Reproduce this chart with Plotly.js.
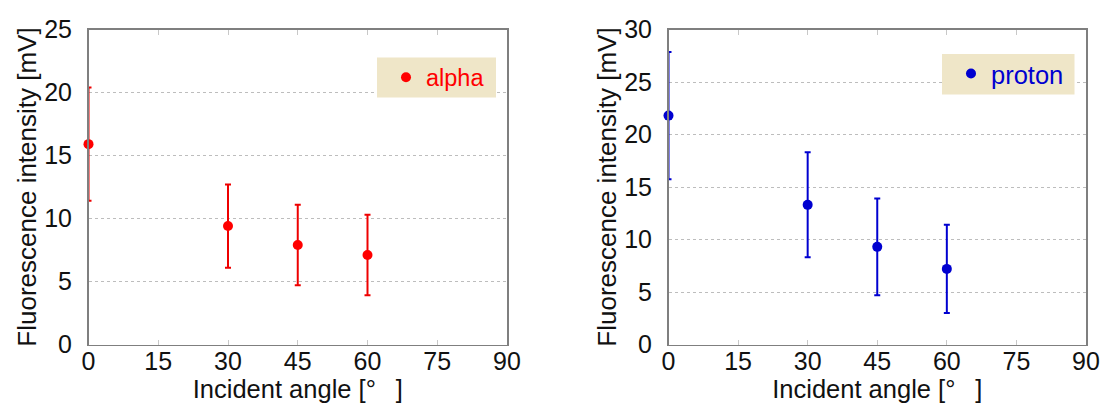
<!DOCTYPE html>
<html>
<head>
<meta charset="utf-8">
<script src="https://cdn.plot.ly/plotly-3.0.1.min.js"></script>
<style>
  html, body { margin: 0; padding: 0; background: #fff; }
  #chart { width: 1112px; height: 405px; }
</style>
</head>
<body>
<div id="chart"></div>
<script>
// Incident angles (degrees)
const angles = [0, 30, 45, 60];

// Alpha-particle fluorescence intensity [mV] and its uncertainty
const alphaIntensity = [15.9, 9.4, 7.9, 7.1];
const alphaError = [4.5, 3.3, 3.2, 3.2];

// Proton fluorescence intensity [mV] and its uncertainty
const protonIntensity = [21.8, 13.3, 9.3, 7.2];
const protonError = [6.05, 5.0, 4.6, 4.2];

const xTicks = [0, 15, 30, 45, 60, 75, 90];

const FONT = '"Liberation Sans", Arial, sans-serif';
const W = 1112, H = 405;
const px = v => v / W;
const py = v => 1 - v / H;

function xAxis(domain) {
  return {
    domain: domain,
    range: [0, 90],
    tickvals: xTicks,
    ticks: 'inside',
    ticklen: 5,
    tickwidth: 1,
    tickcolor: '#c8c8c8',
    showline: true,
    linecolor: '#7f7f7f',
    linewidth: 1.5,
    mirror: 'ticks',
    showgrid: false,
    zeroline: false,
    tickfont: { family: FONT, size: 25, color: '#111' },
    ticklabelstandoff: -6,
    title: { text: 'Incident angle [°\u2002 ]', font: { family: FONT, size: 25.5, color: '#111' }, standoff: 0 },
    automargin: false
  };
}

function yAxis(domain, max, anchor) {
  return {
    domain: domain,
    anchor: anchor,
    range: [0, max],
    dtick: 5,
    ticks: '',
    showline: true,
    linecolor: '#7f7f7f',
    linewidth: 1.5,
    mirror: true,
    showgrid: true,
    gridcolor: '#bdbdbd',
    griddash: 'dot',
    gridwidth: 1,
    zeroline: false,
    tickfont: { family: FONT, size: 25, color: '#111' },
    ticklabelstandoff: 10,
    title: { text: 'Fluorescence intensity [mV]', font: { family: FONT, size: 26, color: '#111' }, standoff: 0 },
    automargin: false
  };
}

const traces = [
  {
    x: angles, y: alphaIntensity, name: 'alpha',
    type: 'scatter', mode: 'markers',
    xaxis: 'x', yaxis: 'y', legend: 'legend',
    marker: { color: '#ff0000', size: 10 },
    error_y: { type: 'data', array: alphaError, visible: true, color: '#ee0000', thickness: 2, width: 3 },
    cliponaxis: false
  },
  {
    x: angles, y: protonIntensity, name: 'proton',
    type: 'scatter', mode: 'markers',
    xaxis: 'x2', yaxis: 'y2', legend: 'legend2',
    marker: { color: '#0000d0', size: 10 },
    error_y: { type: 'data', array: protonError, visible: true, color: '#0000d0', thickness: 2, width: 3 },
    cliponaxis: false
  }
];

const yDom = [1 - 344.5 / H, 1 - 29.5 / H];

const layout = {
  width: W, height: H,
  margin: { l: 0, r: 0, t: 0, b: 0 },
  paper_bgcolor: '#ffffff',
  plot_bgcolor: '#ffffff',
  showlegend: true,
  xaxis: Object.assign(xAxis([px(88.5), px(507)]), { anchor: 'y' }),
  yaxis: yAxis(yDom, 25, 'x'),
  xaxis2: Object.assign(xAxis([px(668.5), px(1086)]), { anchor: 'y2' }),
  yaxis2: yAxis(yDom, 30, 'x2'),
  legend: {
    x: px(386), y: py(77.5), xanchor: 'left', yanchor: 'middle',
    bgcolor: 'rgba(0,0,0,0)', borderwidth: 0,
    font: { family: FONT, size: 23.5, color: '#ff0000' }
  },
  legend2: {
    x: px(951), y: py(74), xanchor: 'left', yanchor: 'middle',
    bgcolor: 'rgba(0,0,0,0)', borderwidth: 0,
    font: { family: FONT, size: 25.5, color: '#0000d0' }
  },
  shapes: [
    { type: 'rect', xref: 'paper', yref: 'paper', layer: 'above',
      x0: px(377), x1: px(496), y0: py(97.5), y1: py(57.5),
      fillcolor: '#efe6c8', line: { width: 0 } },
    { type: 'rect', xref: 'paper', yref: 'paper', layer: 'above',
      x0: px(942), x1: px(1074.5), y0: py(94.5), y1: py(54),
      fillcolor: '#efe6c8', line: { width: 0 } }
  ]
};

Plotly.newPlot('chart', traces, layout, { displayModeBar: false, staticPlot: true });
</script>
</body>
</html>
